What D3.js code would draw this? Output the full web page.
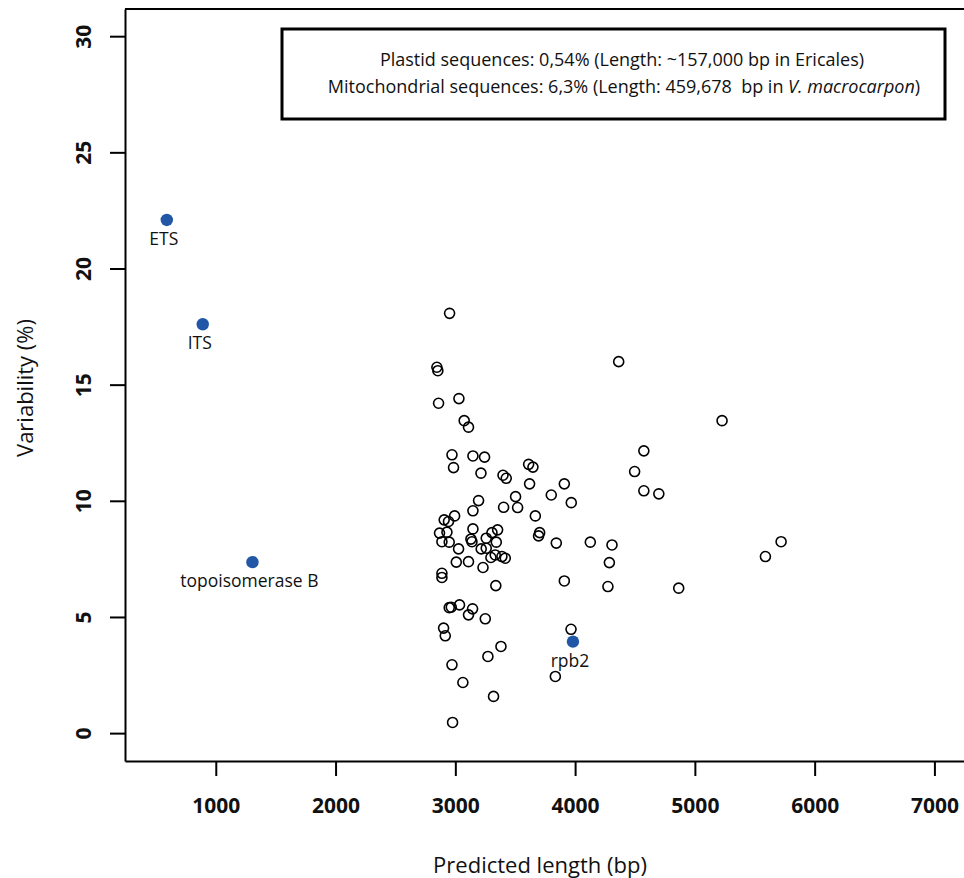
<html>
<head>
<meta charset="utf-8">
<title>variability vs length</title>
<style>
    body { margin: 0; background: #fff; }
    text { font-family: "Open Sans", "Noto Sans", sans-serif; fill: #111; }
    .tick text { font-weight: bold; }
</style>
<script src="https://cdn.jsdelivr.net/npm/d3@7"></script>
</head>
<body>
<script>
    // gene fragments: predicted length (bp) and variability (%)
    var lengths = [2952, 2846, 2854, 2860, 3030, 3074, 3110, 2972, 2985, 3147,
        3244, 3214, 3398, 3425, 3612, 3648, 3620, 3910, 3801, 3968,
        3503, 3520, 3403, 3194, 3147, 3668, 2994, 2907, 2943, 2868,
        2930, 2888, 2949, 3027, 3147, 3130, 3139, 3258, 3306, 3353,
        3342, 3216, 3258, 3297, 3333, 3389, 3417, 3008, 3110, 3231,
        3704, 3695, 3843, 4127, 2888, 2888, 3338, 3910, 2949, 2966,
        3035, 3144, 3110, 3250, 2902, 2916, 3966, 3381, 3272, 2972,
        3835, 3063, 3319, 2977, 4364, 5227, 4574, 4497, 4574, 4699,
        5720, 5589, 4308, 4286, 4274, 4865];
    var variability = [18.07, 15.75, 15.60, 14.20, 14.40, 13.45, 13.17, 11.98, 11.43, 11.93,
        11.88, 11.19, 11.10, 10.97, 11.57, 11.45, 10.73, 10.73, 10.25, 9.92,
        10.18, 9.71, 9.72, 10.01, 9.57, 9.35, 9.35, 9.18, 9.11, 8.61,
        8.65, 8.24, 8.22, 7.93, 8.79, 8.35, 8.24, 8.39, 8.63, 8.75,
        8.22, 7.93, 7.96, 7.56, 7.67, 7.60, 7.53, 7.36, 7.38, 7.13,
        8.63, 8.49, 8.18, 8.22, 6.88, 6.70, 6.35, 6.55, 5.40, 5.42,
        5.52, 5.35, 5.09, 4.92, 4.52, 4.19, 4.47, 3.73, 3.30, 2.94,
        2.44, 2.18, 1.58, 0.46, 15.99, 13.45, 12.15, 11.26, 10.43, 10.30,
        8.24, 7.60, 8.10, 7.34, 6.31, 6.24];

    // highlighted markers
    var markerNames = ["ETS", "ITS", "topoisomerase B", "rpb2"];
    var markerLengths = [591, 891, 1306, 3982];
    var markerVariability = [22.09, 17.60, 7.36, 3.94];

    var xTicks = [1000, 2000, 3000, 4000, 5000, 6000, 7000];
    var yTicks = [0, 5, 10, 15, 20, 25, 30];

    var width = 964, height = 878;
    var plotLeft = 125, plotRight = 964, plotTop = 9, plotBottom = 761;

    var svg = d3.select("body").append("svg")
        .attr("width", width)
        .attr("height", height);

    var x = d3.scaleLinear().domain([242, 7247]).range([plotLeft, plotRight]);
    var y = d3.scaleLinear().domain([-1.2, 31.17]).range([plotBottom, plotTop]);

    var xAxis = d3.axisBottom(x).tickValues(xTicks).tickFormat(d3.format("d"))
        .tickSize(15).tickSizeOuter(0).tickPadding(22);
    var yAxis = d3.axisLeft(y).tickValues(yTicks).tickFormat(d3.format("d"))
        .tickSize(15).tickSizeOuter(0);

    var gx = svg.append("g")
        .attr("transform", "translate(0," + plotBottom + ")")
        .call(xAxis);
    gx.selectAll("text").style("font-size", "21px").attr("dy", "0.71em");

    var gy = svg.append("g")
        .attr("transform", "translate(" + plotLeft + ",0)")
        .call(yAxis);
    gy.selectAll(".tick text")
        .style("font-size", "21px")
        .attr("x", null).attr("dy", null)
        .attr("text-anchor", "middle")
        .attr("transform", "translate(-34,0) rotate(-90)");

    svg.selectAll(".domain, .tick line")
        .attr("stroke", "#000")
        .attr("stroke-width", 2);

    // top edge of the frame
    svg.append("line")
        .attr("x1", plotLeft).attr("x2", plotRight)
        .attr("y1", plotTop).attr("y2", plotTop)
        .attr("stroke", "#000").attr("stroke-width", 2);

    // axis titles
    svg.append("text")
        .attr("x", 540)
        .attr("y", 873)
        .attr("text-anchor", "middle")
        .style("font-size", "22px")
        .text("Predicted length (bp)");

    svg.append("text")
        .attr("transform", "translate(33,388) rotate(-90)")
        .attr("text-anchor", "middle")
        .style("font-size", "22px")
        .text("Variability (%)");

    // open circles
    var pts = lengths.map(function(d, i) { return { len: d, v: variability[i] }; });
    svg.selectAll(".pt")
        .data(pts)
        .enter()
        .append("circle")
        .attr("class", "pt")
        .attr("cx", function(d) { return x(d.len); })
        .attr("cy", function(d) { return y(d.v); })
        .attr("r", 5)
        .attr("fill", "none")
        .attr("stroke", "#000")
        .attr("stroke-width", 1.6);

    // highlighted genes
    var marks = markerNames.map(function(d, i) {
        return { name: d, len: markerLengths[i], v: markerVariability[i] };
    });
    svg.selectAll(".mk")
        .data(marks)
        .enter()
        .append("circle")
        .attr("class", "mk")
        .attr("cx", function(d) { return x(d.len); })
        .attr("cy", function(d) { return y(d.v); })
        .attr("r", 6.2)
        .attr("fill", "#2157a6");

    svg.selectAll(".mklab")
        .data(marks)
        .enter()
        .append("text")
        .attr("class", "mklab")
        .attr("x", function(d) { return x(d.len) - 3; })
        .attr("y", function(d) { return y(d.v) + 25; })
        .attr("text-anchor", "middle")
        .style("font-size", "17.5px")
        .text(function(d) { return d.name; });

    // legend box
    svg.append("rect")
        .attr("x", 282).attr("y", 29)
        .attr("width", 663).attr("height", 90)
        .attr("fill", "#fff")
        .attr("stroke", "#000")
        .attr("stroke-width", 3);

    svg.append("text")
        .attr("x", 622).attr("y", 66)
        .attr("text-anchor", "middle")
        .style("font-size", "18px")
        .text("Plastid sequences: 0,54% (Length: ~157,000 bp in Ericales)");

    var l2 = svg.append("text")
        .attr("x", 624).attr("y", 93)
        .attr("text-anchor", "middle")
        .style("font-size", "18px")
        .attr("xml:space", "preserve");
    l2.append("tspan").text("Mitochondrial sequences: 6,3% (Length: 459,678  bp in ");
    l2.append("tspan").style("font-style", "italic").text("V. macrocarpon");
    l2.append("tspan").text(")");
</script>
</body>
</html>
